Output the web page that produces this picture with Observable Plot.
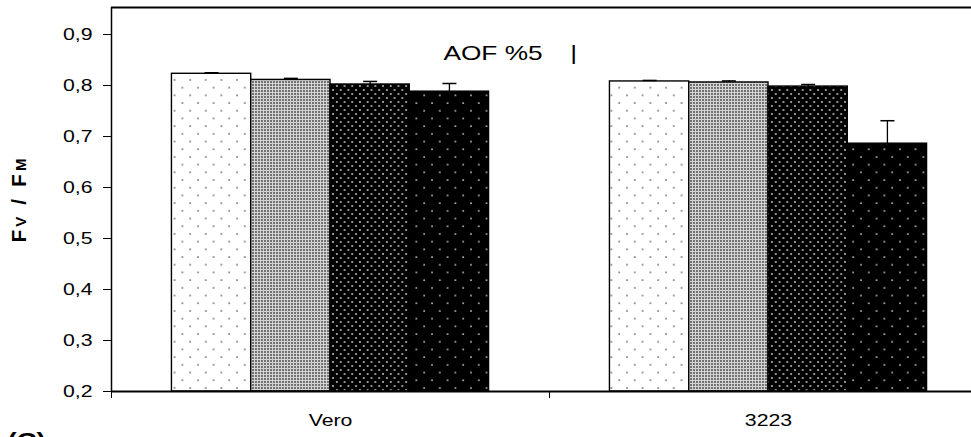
<!DOCTYPE html>
<html>
<head>
<meta charset="utf-8">
<script src="https://cdn.jsdelivr.net/npm/d3@7"></script>
<script src="https://cdn.jsdelivr.net/npm/@observablehq/plot@0.6"></script>
<style>
  html, body { margin: 0; padding: 0; background: white; overflow: hidden; }
</style>
</head>
<body>
<script>
// ---- data ----
const groups = ["Vero", "3223"];
const series = ["T1", "T2", "T3", "T4"];
const veroMeans = [0.823, 0.811, 0.802, 0.788];
const veroErrs  = [0.002, 0.003, 0.006, 0.016];
const g3223Means = [0.808, 0.806, 0.798, 0.686];
const g3223Errs  = [0.002, 0.003, 0.004, 0.045];
const yTicks = [0.2, 0.3, 0.4, 0.5, 0.6, 0.7, 0.8, 0.9];
const yLabel = "Fv / FM";
const annotations = [
  {text: "AOF %5", x: 0.371, y: 0.863},
  {text: "|", x: 0.555, y: 0.863}
];
const caption = "(C)";

// ---- layout ----
const groupSpan = 0.724;
const bw = groupSpan / series.length;
const means = [veroMeans, g3223Means];
const errs = [veroErrs, g3223Errs];
const rows = groups.flatMap((g, gi) => series.map((s, si) => {
  const x1 = gi - groupSpan / 2 + si * bw;
  return {group: g, series: s, x1, x2: x1 + bw, xc: x1 + bw / 2,
          mean: means[gi][si], err: errs[gi][si]};
}));

const capSymbol = {
  draw(context, size) {
    const r = Math.sqrt(size / Math.PI);
    context.moveTo(-r, 0);
    context.lineTo(r, 0);
  }
};

const chart = Plot.plot({
  width: 971,
  height: 437,
  marginLeft: 111,
  marginRight: 0,
  marginTop: 7,
  marginBottom: 46,
  style: {fontFamily: "'Liberation Sans', Arial, sans-serif", color: "black", background: "white", overflow: "hidden"},
  x: {type: "linear", domain: [-0.5, 1.5], range: [111, 987], axis: null},
  y: {domain: [0.2, 0.953], range: [391, 7], axis: null},
  color: {type: "ordinal", domain: series, range: ["url(#p0)", "url(#p1)", "url(#p2)", "url(#p3)"]},
  marks: [
    Plot.rect(rows, {x1: "x1", x2: "x2", y1: () => 0.2, y2: "mean", fill: "series", stroke: "black", strokeWidth: 1.4}),
    Plot.ruleX(rows, {x: "xc", y1: "mean", y2: d => d.mean + d.err, stroke: "black", strokeWidth: 1.3}),
    Plot.dot(rows, {x: "xc", y: d => d.mean + d.err, r: 7, symbol: capSymbol, stroke: "black", fill: "none", strokeWidth: 1.5}),
    Plot.ruleY([0.953], {stroke: "black", strokeWidth: 2}),
    Plot.ruleY([0.2], {stroke: "black", strokeWidth: 2}),
    Plot.ruleX([-0.5], {y1: 0.2, y2: 0.953, stroke: "black", strokeWidth: 1.5}),
    Plot.axisY({ticks: yTicks, tickSize: 8, tickPadding: 11, tickFormat: d => d.toFixed(1).replace(".", ","), fontSize: 17, label: null, stroke: "black"}),
    Plot.axisX({ticks: [-0.5, 0.5, 1.5], tickSize: 7, tickFormat: () => "", label: null, stroke: "black"}),
    Plot.text(groups, {x: (d, i) => i, frameAnchor: "bottom", dy: 34, fontSize: 17}),
    Plot.text(annotations, {x: "x", y: "y", text: "text", fontSize: 21}),
    Plot.text([yLabel], {frameAnchor: "left", dx: -92, dy: 43, rotate: -90, textAnchor: "start", fontWeight: "bold", fontSize: 21}),
    Plot.text([caption], {frameAnchor: "bottom-left", dx: -104, dy: 41, textAnchor: "start", lineAnchor: "top", fontWeight: "bold", fontSize: 22})
  ]
});

document.body.append(chart);

// pattern definitions
const svg = d3.select(chart.tagName.toLowerCase() === "svg" ? chart : chart.querySelector("svg"));
const defs = svg.insert("defs", ":first-child");
function pat(id, w, h, bg, dots, r, dotFill) {
  const p = defs.append("pattern").attr("id", id).attr("patternUnits", "userSpaceOnUse").attr("width", w).attr("height", h);
  p.append("rect").attr("width", w).attr("height", h).attr("fill", bg);
  for (const [cx, cy] of dots) p.append("circle").attr("cx", cx).attr("cy", cy).attr("r", r).attr("fill", dotFill);
}
pat("p0", 15.6, 15.4, "white", [[3, 3], [10.8, 10.7]], 0.8, "#333");
pat("p1", 3, 3, "#d4d4d4", [[1, 1]], 0.9, "#444");
pat("p2", 7.7, 8, "black", [[1.9, 2], [5.75, 6]], 0.9, "#d0d0d0");
pat("p3", 15.6, 15.4, "black", [[3, 3], [10.8, 10.7]], 0.9, "#e0e0e0");

// y label with reduced-size letters
svg.selectAll("text").each(function() {
  if (this.textContent === yLabel) {
    const t = d3.select(this);
    t.text(null);
    t.append("tspan").text("F");
    t.append("tspan").attr("font-size", "15").text("V");
    t.append("tspan").text(" / F");
    t.append("tspan").attr("font-size", "15").text("M");
    t.attr("textLength", 84).attr("lengthAdjust", "spacing");
  } else if (this.textContent.length) {
    const L = this.getComputedTextLength();
    this.setAttribute("textLength", L * 1.25);
    this.setAttribute("lengthAdjust", "spacingAndGlyphs");
  }
});
</script>
</body>
</html>
